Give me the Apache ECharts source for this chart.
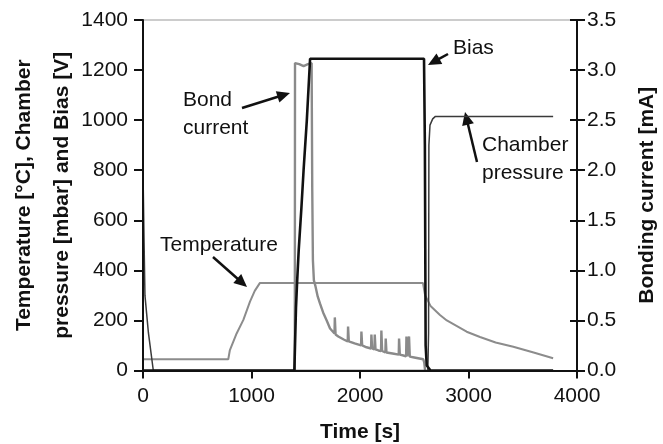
<!DOCTYPE html>
<html><head><meta charset="utf-8">
<script src="https://cdn.jsdelivr.net/npm/echarts@6/dist/echarts.min.js"></script>
<style>html,body{margin:0;padding:0;background:#fff}#c{width:663px;height:444px}</style>
</head><body><div id="c"></div>
<script>
// ---- data ----
const xTickValues = [0, 1000, 2000, 3000, 4000];
const leftTickValues = [0, 200, 400, 600, 800, 1000, 1200, 1400];
const rightTickValues = [0.0, 0.5, 1.0, 1.5, 2.0, 2.5, 3.0, 3.5];

// Temperature [°C] (left axis)
const temperature = [
  [0,45],[786,45],[800,80],[863,148],[925,202],[986,275],[1030,318],[1078,350],
  [2580,350],[2600,300],[2650,258],[2737,222],[2800,200],[2983,155],[3106,134],
  [3250,112],[3413,95],[3600,72],[3780,49]
];
// Chamber pressure [mbar] (left axis)
const chamberPressure = [
  [0,800],[10,510],[18,300],[50,150],[95,0],[2625,0],[2632,150],[2635,900],
  [2645,980],[2670,1005],[2695,1015],[3780,1015]
];
// Bias [V] (left axis)
const bias = [
  [0,0],[1395,0],[1410,250],[1420,350],[1435,480],[1460,650],[1480,800],[1510,1000],
  [1540,1245],[2590,1245],[2598,900],[2605,100],[2615,20],[2650,0],[3780,0]
];
// Bonding current [mA] (right axis)
const bondCurrent = [
  [1399,0],[1401,3.07],[1440,3.06],[1480,3.04],[1520,3.06],[1554,3.07],[1560,1.8],
  [1566,1.1],[1575,0.9],[1590,0.84],[1610,0.74],[1631,0.67],[1660,0.58],[1693,0.50],
  [1724,0.42],[1765,0.37],[1768,0.53],[1772,0.53],[1775,0.36],[1800,0.34],[1850,0.31],
  [1887,0.29],[1890,0.44],[1894,0.44],[1897,0.29],[1950,0.27],[2010,0.25],[2013,0.39],
  [2017,0.39],[2020,0.25],[2060,0.232],[2102,0.22],[2105,0.36],[2109,0.36],[2112,0.22],
  [2133,0.21],[2136,0.36],[2140,0.36],[2143,0.21],[2170,0.20],[2194,0.195],[2197,0.40],
  [2201,0.40],[2204,0.195],[2234,0.18],[2237,0.32],[2241,0.32],[2244,0.18],[2300,0.17],
  [2357,0.158],[2360,0.32],[2364,0.32],[2367,0.158],[2400,0.15],[2425,0.142],[2428,0.34],
  [2432,0.34],[2435,0.142],[2449,0.138],[2452,0.34],[2456,0.34],[2459,0.138],[2500,0.13],
  [2583,0.112],[2592,0.08],[2600,0]
];

// ---- annotations (text + arrows, pixel layout) ----
const FONT = "'Liberation Sans', Arial, Helvetica, sans-serif";
const annotations = [
  {text:'Bond\ncurrent', x:183, y:114, arrow:[242,108,290,93]},
  {text:'Temperature', x:160, y:245, arrow:[213,257,247,287]},
  {text:'Bias', x:453, y:48, arrow:[448,54,428,65]},
  {text:'Chamber\npressure', x:482, y:159, arrow:[477,162,465,112]}
];

function arrowShapes(a){
  const [x1,y1,x2,y2]=a;
  const dx=x2-x1, dy=y2-y1, L=Math.hypot(dx,dy), ux=dx/L, uy=dy/L;
  const hl=13, hw=6;
  const bx=x2-ux*hl, by=y2-uy*hl;
  return [
    {type:'line', silent:true, shape:{x1:x1,y1:y1,x2:bx+ux*2,y2:by+uy*2}, style:{stroke:'#111',lineWidth:2.5}},
    {type:'polygon', silent:true, shape:{points:[[x2,y2],[bx-uy*hw,by+ux*hw],[bx+uy*hw,by-ux*hw]]}, style:{fill:'#111'}}
  ];
}
const graphics = [];
annotations.forEach(a=>{
  graphics.push({type:'text', silent:true, x:a.x, y:a.y, style:{text:a.text, font:'21px '+FONT, fill:'#111', verticalAlign:'middle', align:'left', lineHeight:28}});
  graphics.push(...arrowShapes(a.arrow));
});

const chart = echarts.init(document.getElementById('c'), null, {renderer:'canvas'});
const labelStyle = {color:'#111', fontSize:21, fontFamily:FONT};
const nameStyle = {color:'#111', fontSize:21, fontWeight:'bold', fontFamily:FONT};
chart.setOption({
  animation:false,
  backgroundColor:'#fff',
  grid:{left:143, right:86, top:20, bottom:73.5, containLabel:false, outerBoundsMode:'none',
        show:true, borderColor:'#999', borderWidth:1, backgroundColor:'transparent'},
  xAxis:{
    type:'value', min:xTickValues[0], max:xTickValues[xTickValues.length-1], interval:1000, z:5,
    name:'Time [s]', nameLocation:'middle', nameGap:51, nameMoveOverlap:false, nameTextStyle:nameStyle,
    axisLine:{lineStyle:{color:'#111', width:2}},
    axisTick:{show:true, inside:false, length:8, lineStyle:{color:'#111', width:2}},
    axisLabel:Object.assign({margin:15, formatter:v=>String(v)}, labelStyle),
    splitLine:{show:false}
  },
  yAxis:[
    {type:'value', position:'left', min:leftTickValues[0], max:leftTickValues[leftTickValues.length-1], interval:200, z:5,
     name:'Temperature [°C], Chamber\npressure [mbar] and Bias [V]', nameLocation:'middle', nameGap:62, nameRotate:90,
     nameMoveOverlap:false,
     nameTextStyle:Object.assign({lineHeight:38}, nameStyle),
     axisLine:{show:true, lineStyle:{color:'#111', width:2}},
     axisTick:{show:true, inside:false, length:9, lineStyle:{color:'#111', width:2}},
     axisLabel:Object.assign({margin:15, formatter:v=>String(v)}, labelStyle),
     splitLine:{show:false}},
    {type:'value', position:'right', min:rightTickValues[0], max:rightTickValues[rightTickValues.length-1], interval:0.5, z:5,
     name:'Bonding current [mA]', nameLocation:'middle', nameGap:60, nameRotate:90, nameMoveOverlap:false, nameTextStyle:nameStyle,
     axisLine:{show:true, lineStyle:{color:'#111', width:2}},
     axisTick:{show:true, inside:false, length:8, lineStyle:{color:'#111', width:2}},
     axisLabel:Object.assign({margin:10, formatter:v=>v.toFixed(1)}, labelStyle),
     splitLine:{show:false}},
    {type:'value', position:'right', min:rightTickValues[0], max:rightTickValues[rightTickValues.length-1], interval:0.5, z:5,
     axisLine:{show:false}, axisTick:{show:true, inside:true, length:7, lineStyle:{color:'#111', width:2}},
     axisLabel:{show:false}, splitLine:{show:false}}
  ],
  series:[
    {name:'Temperature', type:'line', yAxisIndex:0, data:temperature, symbol:'none', lineStyle:{color:'#8c8c8c', width:2}},
    {name:'Bond current', type:'line', yAxisIndex:1, data:bondCurrent, symbol:'none', lineStyle:{color:'#8a8a8a', width:2.4}},
    {name:'Chamber pressure', type:'line', yAxisIndex:0, data:chamberPressure, symbol:'none', lineStyle:{color:'#3a3a3a', width:1.5}},
    {name:'Bias', type:'line', yAxisIndex:0, data:bias, symbol:'none', lineStyle:{color:'#111', width:2.6}}
  ],
  graphic:graphics
});
</script>
</body></html>
